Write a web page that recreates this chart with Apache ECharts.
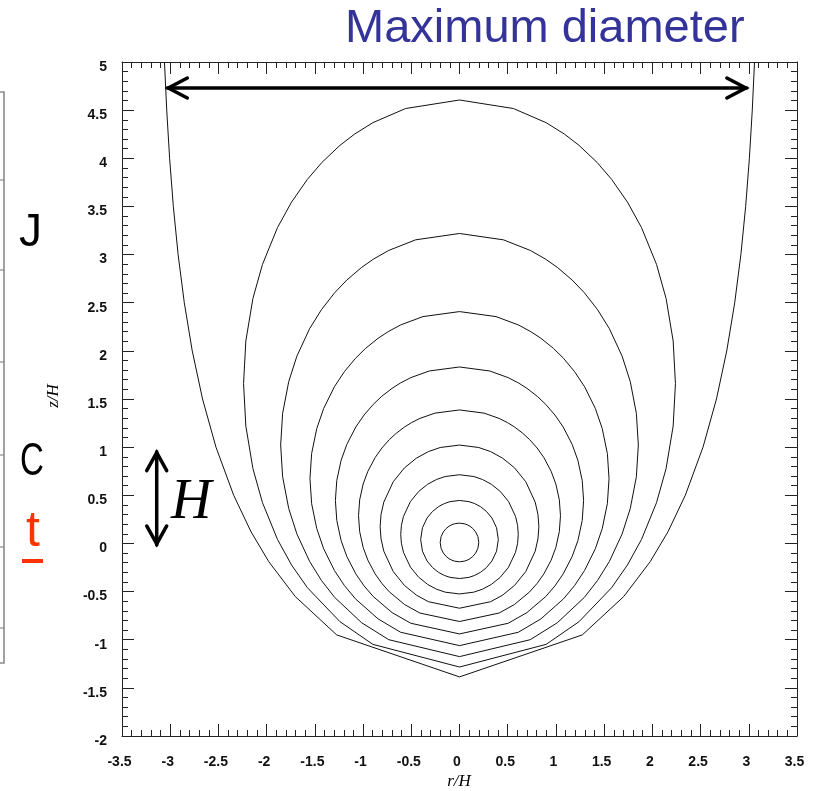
<!DOCTYPE html>
<html>
<head>
<meta charset="utf-8">
<script src="https://cdn.jsdelivr.net/npm/echarts@6/dist/echarts.min.js"></script>
<style>
html,body{margin:0;padding:0;background:#fff;}
#main{width:814px;height:791px;}
</style>
</head>
<body>
<div id="main"></div>
<script>
// Axis ranges & tick labels
const xRange = [-3.5, 3.5];
const yRange = [-2, 5];
const tickStep = 0.5;
const xTickLabels = ['-3.5','-3','-2.5','-2','-1.5','-1','-0.5','0','0.5','1','1.5','2','2.5','3','3.5'];
const yTickLabels = ['-2','-1.5','-1','-0.5','0','0.5','1','1.5','2','2.5','3','3.5','4','4.5','5'];

// Shock-front shapes: right half [r/H, z/H], bottom -> top
const front02 = [[0,-0.1906],[0.0487,-0.1846],[0.0785,-0.1746],[0.1086,-0.1585],[0.1389,-0.1344],[0.1672,-0.1003],[0.1910,-0.0502],[0.2002,0.0101],[0.1910,0.0703],[0.1672,0.1204],[0.1389,0.1545],[0.1086,0.1786],[0.0785,0.1947],[0.0487,0.2047],[0,0.2107]];
const front04 = [[0,-0.3646],[0.0979,-0.3525],[0.1578,-0.3322],[0.2185,-0.2998],[0.2795,-0.2511],[0.3364,-0.1822],[0.3842,-0.0808],[0.4027,0.0408],[0.3842,0.1625],[0.3364,0.2638],[0.2795,0.3327],[0.2185,0.3814],[0.1578,0.4138],[0.0979,0.4341],[0,0.4463]];
const front06 = [[0,-0.5247],[0.1482,-0.5062],[0.2389,-0.4752],[0.3307,-0.4257],[0.4229,-0.3514],[0.5090,-0.2462],[0.5813,-0.0914],[0.6025,0.0014],[0.6094,0.0943],[0.6025,0.1872],[0.5813,0.2800],[0.5090,0.4348],[0.4229,0.5400],[0.3307,0.6143],[0.2389,0.6638],[0.1482,0.6948],[0,0.7133]];
const front08 = [[0,-0.6729],[0.3226,-0.6052],[0.4467,-0.5374],[0.5713,-0.4357],[0.6875,-0.2917],[0.7851,-0.0798],[0.8137,0.0473],[0.8230,0.1744],[0.8137,0.3015],[0.7851,0.4285],[0.6875,0.6404],[0.5713,0.7844],[0.4467,0.8861],[0.3226,0.9539],[0.2001,0.9962],[0,1.0217]];
const front10 = [[0,-0.8109],[0.4107,-0.7230],[0.5686,-0.6352],[0.7271,-0.5033],[0.8049,-0.4154],[0.8748,-0.3166],[0.9505,-0.1737],[0.9990,-0.0419],[1.0354,0.1229],[1.0472,0.2877],[1.0354,0.4525],[0.9990,0.6173],[0.9505,0.7491],[0.8748,0.8919],[0.8049,0.9908],[0.7271,1.0787],[0.6557,1.1446],[0.5686,1.2105],[0.4978,1.2545],[0.4107,1.2984],[0.2548,1.3533],[0,1.3863]];
const front12 = [[0,-0.9400],[0.5053,-0.8291],[0.6994,-0.7182],[0.8942,-0.5518],[0.9898,-0.4409],[1.0756,-0.3162],[1.1684,-0.1359],[1.2280,0.0304],[1.2725,0.2384],[1.2870,0.4463],[1.2725,0.6542],[1.2280,0.8622],[1.1684,1.0285],[1.0756,1.2088],[0.9898,1.3335],[0.8942,1.4444],[0.8065,1.5276],[0.6994,1.6108],[0.6123,1.6662],[0.5053,1.7217],[0.3135,1.7910],[0,1.8326]];
const front14 = [[0,-1.0613],[0.6103,-0.9225],[0.8444,-0.7837],[1.0790,-0.5756],[1.1940,-0.4368],[1.2972,-0.2807],[1.4086,-0.0552],[1.4800,0.1530],[1.5335,0.4131],[1.5508,0.6733],[1.5335,0.9335],[1.4800,1.1937],[1.4086,1.4018],[1.2972,1.6274],[1.1940,1.7834],[1.0790,1.9223],[0.9734,2.0263],[0.8444,2.1304],[0.7394,2.1997],[0.6103,2.2692],[0.3787,2.3559],[0,2.4079]];
const front16 = [[0,-1.1756],[0.7337,-0.9998],[1.0143,-0.8240],[1.2947,-0.5604],[1.4317,-0.3845],[1.5543,-0.1868],[1.6866,0.0989],[1.7710,0.3625],[1.8341,0.6921],[1.8546,1.0217],[1.8341,1.3513],[1.7710,1.6808],[1.6866,1.9445],[1.5543,2.2301],[1.4317,2.4279],[1.2947,2.6037],[1.1686,2.7355],[1.0143,2.8674],[0.8885,2.9553],[0.7337,3.0431],[0.4555,3.1530],[0,3.2189]];
const front18 = [[0,-1.2837],[0.8988,-1.0481],[1.2399,-0.8126],[1.5779,-0.4593],[1.7418,-0.2237],[1.8875,0.0413],[2.0434,0.4240],[2.1423,0.7774],[2.2158,1.2191],[2.2395,1.6607],[2.2158,2.1024],[2.1423,2.5441],[2.0434,2.8974],[1.8875,3.2802],[1.7418,3.5451],[1.5779,3.7807],[1.4264,3.9574],[1.2399,4.1341],[1.0873,4.2518],[0.8988,4.3696],[0.5589,4.5168],[0,4.6052]];
// Outermost (blow-out) front, open at the top
const frontOuter = [[0,-1.3863],[1.2737,-0.95],[1.7028,-0.552],[1.978,-0.189],[2.163,0.123],[2.3416,0.5],[2.5254,1.0],[2.6647,1.5],[2.7716,2.0],[2.8541,2.5],[2.918,3.0],[2.9676,3.5],[3.0062,4.0],[3.0361,4.5],[3.0595,5.0]];

const closedFronts = [front02, front04, front06, front08, front10, front12, front14, front16, front18];

function mirrorLeft(half){ return half.slice().reverse().map(p => [-p[0], p[1]]); }
function closedLoop(half){ return half.concat(mirrorLeft(half)); }
function openCurve(half){ return mirrorLeft(half).concat(half.slice(1)); }

const chart = echarts.init(document.getElementById('main'), null, {renderer:'canvas'});

const lineStyle = {color:'#111', width:1};
const series = closedFronts.map(h => ({
  type:'line', data: closedLoop(h), showSymbol:false, symbol:'none',
  lineStyle: lineStyle, silent:true, animation:false, clip:true
}));
series.push({type:'line', data: openCurve(frontOuter), showSymbol:false, symbol:'none',
  lineStyle: lineStyle, silent:true, animation:false, clip:true});

const labelText = {fontFamily:'Liberation Sans, Arial, sans-serif', fontWeight:'bold', fontSize:14, color:'#111'};
const axisLineStyle = {color:'#222', width:1};

function xAxisCfg(pos, show){
  return {type:'value', position:pos, min:xRange[0], max:xRange[1], interval:tickStep,
    axisLine:{show:true, onZero:false, lineStyle:axisLineStyle},
    axisTick:{show:true, inside:true, length:12, lineStyle:axisLineStyle},
    minorTick:{show:true, splitNumber:5, length:6, lineStyle:axisLineStyle},
    splitLine:{show:false}, minorSplitLine:{show:false},
    axisLabel: show ? {show:true, margin:19, showMinLabel:true, showMaxLabel:true, hideOverlap:false,
      formatter: v => '{a|' + xTickLabels[Math.round((v - xRange[0]) / tickStep)] + '}',
      rich:{a: Object.assign({padding:[0,5,0,0]}, labelText)}} : {show:false}
  };
}
function yAxisCfg(pos, show){
  return {type:'value', position:pos, min:yRange[0], max:yRange[1], interval:tickStep,
    axisLine:{show:true, onZero:false, lineStyle:axisLineStyle},
    axisTick:{show:true, inside:true, length:12, lineStyle:axisLineStyle},
    minorTick:{show:true, splitNumber:5, length:6, lineStyle:axisLineStyle},
    splitLine:{show:false}, minorSplitLine:{show:false},
    axisLabel: show ? {show:true, margin:15, showMinLabel:true, showMaxLabel:true, hideOverlap:false,
      formatter: v => '{a|' + yTickLabels[Math.round((v - yRange[0]) / tickStep)] + '}',
      rich:{a: Object.assign({padding:[10,0,0,0]}, labelText)}} : {show:false}
  };
}

chart.setOption({
  animation:false,
  backgroundColor:'#fff',
  grid:{left:122, right:17, top:62, bottom:55, containLabel:false},
  xAxis:[xAxisCfg('bottom', true), xAxisCfg('top', false)],
  yAxis:[yAxisCfg('left', true), yAxisCfg('right', false)],
  series: series
});

// Annotations placed on the data coordinates
const P = (r, z) => chart.convertToPixel({gridIndex:0}, [r, z]);
const aL = P(-3.03, 4.73), aR = P(2.98, 4.73);
const vT = P(-3.14, 0.953), vB = P(-3.14, -0.016);
const arrowStyle = {stroke:'#000', lineWidth:3.5, fill:null, lineCap:'round', lineJoin:'miter'};
const serif = 'Liberation Serif, Times New Roman, serif';
const sans = 'Liberation Sans, Arial, sans-serif';

chart.setOption({
  graphic:[
    {type:'line', shape:{x1:aL[0], y1:aL[1], x2:aR[0], y2:aR[1]}, style:arrowStyle, silent:true},
    {type:'polyline', shape:{points:[[aL[0]+20, aL[1]-10],[aL[0]+1, aL[1]],[aL[0]+20, aL[1]+10]]}, style:arrowStyle, silent:true},
    {type:'polyline', shape:{points:[[aR[0]-20, aR[1]-10],[aR[0]-1, aR[1]],[aR[0]-20, aR[1]+10]]}, style:arrowStyle, silent:true},
    {type:'line', shape:{x1:vT[0], y1:vT[1], x2:vB[0], y2:vB[1]}, style:arrowStyle, silent:true},
    {type:'polyline', shape:{points:[[vT[0]-10, vT[1]+19],[vT[0], vT[1]+1],[vT[0]+10, vT[1]+19]]}, style:arrowStyle, silent:true},
    {type:'polyline', shape:{points:[[vB[0]-10, vB[1]-19],[vB[0], vB[1]-1],[vB[0]+10, vB[1]-19]]}, style:arrowStyle, silent:true},
    {type:'text', x:171, y:503, style:{text:'H', font:'italic 56px ' + serif, fill:'#000', align:'left', verticalAlign:'middle'}, silent:true},
    {type:'text', x:345, y:29, style:{text:'Maximum diameter', font:'47px ' + sans, fill:'#333399', align:'left', verticalAlign:'middle'}, silent:true},
    {type:'text', x:459, y:782, style:{text:'r/H', font:'italic 17px ' + serif, fill:'#000', align:'center', verticalAlign:'middle'}, silent:true},
    {type:'text', x:54, y:396, rotation:Math.PI/2, style:{text:'z/H', font:'italic 17px ' + serif, fill:'#000', align:'center', verticalAlign:'middle'}, silent:true},
    {type:'polyline', shape:{points:[[-2,92],[4,92],[4,663],[-2,663]]}, style:{stroke:'#8a8a8a', lineWidth:1.6, fill:null}, silent:true},
    {type:'line', shape:{x1:0, y1:180, x2:4, y2:180}, style:{stroke:'#8a8a8a', lineWidth:1.2}, silent:true},
    {type:'line', shape:{x1:0, y1:270, x2:4, y2:270}, style:{stroke:'#8a8a8a', lineWidth:1.2}, silent:true},
    {type:'line', shape:{x1:0, y1:362, x2:4, y2:362}, style:{stroke:'#8a8a8a', lineWidth:1.2}, silent:true},
    {type:'line', shape:{x1:0, y1:455, x2:4, y2:455}, style:{stroke:'#8a8a8a', lineWidth:1.2}, silent:true},
    {type:'line', shape:{x1:0, y1:547, x2:4, y2:547}, style:{stroke:'#8a8a8a', lineWidth:1.2}, silent:true},
    {type:'line', shape:{x1:0, y1:628, x2:4, y2:628}, style:{stroke:'#8a8a8a', lineWidth:1.2}, silent:true},
    {type:'text', x:19, y:233, style:{text:'J', font:'46px ' + sans, fill:'#000', align:'left', verticalAlign:'middle'}, silent:true},
    {type:'text', x:20, y:462, scaleX:0.72, style:{text:'C', font:'46px ' + sans, fill:'#000', align:'left', verticalAlign:'middle'}, silent:true},
    {type:'text', x:26, y:532, style:{text:'t', font:'50px ' + sans, fill:'#ff3300', align:'left', verticalAlign:'middle'}, silent:true},
    {type:'rect', shape:{x:22, y:559, width:21, height:4}, style:{fill:'#ff3300'}, silent:true}
  ]
});
</script>
</body>
</html>
